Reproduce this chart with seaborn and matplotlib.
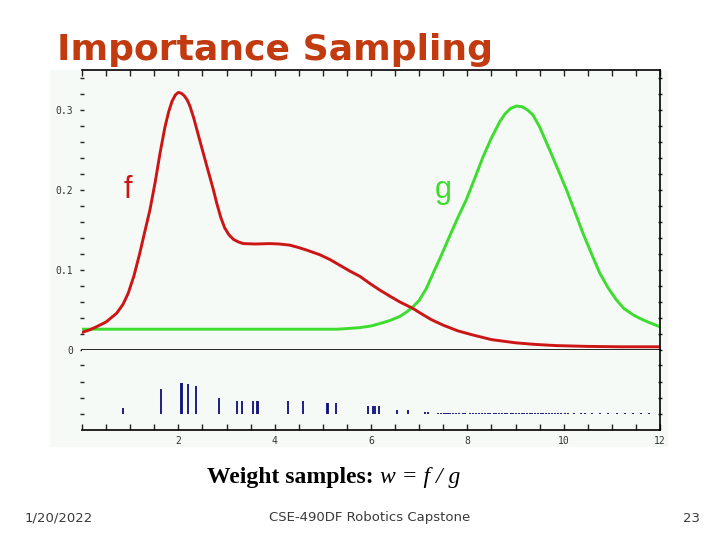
import matplotlib
matplotlib.use("Agg")
import matplotlib.pyplot as plt
from matplotlib.patches import Rectangle
from matplotlib.ticker import MultipleLocator, FixedLocator
import pandas as pd
import seaborn as sns

# target density f (red)
f_x = [0, 0.15, 0.3, 0.5, 0.72, 0.85, 0.96, 1.08, 1.2, 1.3, 1.41, 1.52, 1.62, 1.72, 1.8,
       1.87, 1.94, 2.0, 2.06, 2.12, 2.18, 2.24, 2.32, 2.4, 2.5, 2.6, 2.72, 2.8, 2.88,
       2.96, 3.05, 3.15, 3.25, 3.35, 3.6, 3.9, 4.1, 4.32, 4.5, 4.66, 4.94, 5.15, 5.35,
       5.55, 5.77, 5.98, 6.18, 6.4, 6.6, 6.87, 7.0, 7.25, 7.5, 7.8, 8.1, 8.5, 9.0, 9.4,
       9.85, 10.5, 11.2, 12]
f_y = [0.022, 0.025, 0.029, 0.035, 0.046, 0.057, 0.071, 0.093, 0.121, 0.147, 0.175, 0.21,
       0.246, 0.278, 0.298, 0.311, 0.319, 0.322, 0.321, 0.318, 0.313, 0.305, 0.29, 0.272,
       0.25, 0.228, 0.202, 0.183, 0.166, 0.153, 0.144, 0.138, 0.135, 0.133, 0.1325, 0.133,
       0.1325, 0.131, 0.128, 0.125, 0.119, 0.113, 0.106, 0.099, 0.092, 0.083, 0.075,
       0.067, 0.06, 0.052, 0.047, 0.038, 0.031, 0.024, 0.019, 0.013, 0.009, 0.007,
       0.0055, 0.0045, 0.004, 0.004]

# proposal density g (green)
g_x = [0, 5.3, 5.55, 5.77, 6.0, 6.18, 6.4, 6.6, 6.75, 6.87, 7.0, 7.15, 7.29, 7.45, 7.63,
       7.8, 7.98, 8.15, 8.33, 8.5, 8.67, 8.78, 8.9, 9.02, 9.14, 9.25, 9.36, 9.5, 9.71,
       9.9, 10.06, 10.25, 10.4, 10.58, 10.75, 10.92, 11.09, 11.25, 11.44, 11.6, 11.75, 12]
g_y = [0.026, 0.026, 0.027, 0.028, 0.030, 0.033, 0.037, 0.042, 0.048, 0.054, 0.062, 0.077,
       0.096, 0.117, 0.142, 0.165, 0.188, 0.214, 0.242, 0.265, 0.285, 0.295, 0.302, 0.305,
       0.304, 0.300, 0.294, 0.279, 0.25, 0.223, 0.2, 0.17, 0.146, 0.12, 0.096, 0.078,
       0.063, 0.052, 0.044, 0.039, 0.035, 0.029]

# weighted samples (position, weight)
sample_x = [0.86, 1.65, 2.05, 2.07, 2.21, 2.36, 2.85, 3.22, 3.33, 3.56, 3.64, 3.66, 4.28,
            4.59, 5.08, 5.10, 5.28, 5.94, 6.04, 6.08, 6.16, 6.53, 6.76,
            7.12, 7.18, 7.40, 7.46, 7.52, 7.56, 7.60, 7.65, 7.70, 7.76, 7.82, 7.90, 7.95,
            8.05, 8.12, 8.18, 8.25, 8.30, 8.36, 8.42, 8.48, 8.55, 8.60, 8.66, 8.72, 8.78,
            8.83, 8.90, 8.94, 9.02, 9.08, 9.13, 9.18, 9.24, 9.30, 9.35, 9.41, 9.47, 9.52,
            9.58, 9.63, 9.70, 9.76, 9.82, 9.88, 9.95, 10.02, 10.08, 10.22, 10.35, 10.45,
            10.58, 10.75, 10.92, 11.10, 11.27, 11.43, 11.60, 11.78]
sample_w = [2.6, 10.5, 12.8, 12.8, 12.5, 11.4, 6.6, 5.5, 5.5, 5.5, 5.5, 5.5, 5.2,
            5.2, 4.7, 4.7, 4.7, 3.1, 3.1, 3.1, 3.1, 1.5, 1.5,
            0.8, 0.8, 0.6, 0.6, 0.6, 0.6, 0.6, 0.6, 0.6, 0.6, 0.6, 0.6, 0.6,
            0.6, 0.6, 0.6, 0.6, 0.6, 0.6, 0.6, 0.6, 0.6, 0.6, 0.6, 0.6, 0.6,
            0.6, 0.6, 0.6, 0.6, 0.6, 0.6, 0.6, 0.6, 0.6, 0.6, 0.6, 0.6, 0.6,
            0.6, 0.6, 0.6, 0.6, 0.6, 0.6, 0.6, 0.6, 0.6, 0.6, 0.6, 0.6,
            0.6, 0.6, 0.6, 0.6, 0.6, 0.6, 0.6, 0.6]

y_labels = ["0", "0.1", "0.2", "0.3"]
x_labels = ["2", "4", "6", "8", "10", "12"]

sns.set_style("white")
plt.rcParams["font.family"] = ["DejaVu Sans"]

RED = "#cc1515"
GREEN = "#3ddc2e"
PANEL = "#f5faf7"
TICK = "#222222"

fig = plt.figure(figsize=(7.2, 5.4), dpi=100)
fig.patch.set_facecolor("white")
fig.patches.append(Rectangle((50 / 720, 1 - 447 / 540), 618 / 720, 377 / 540,
                             transform=fig.transFigure, facecolor=PANEL,
                             edgecolor="none", zorder=-10))

ax = fig.add_axes([82 / 720, 1 - 350 / 540, 578 / 720, 280 / 540])
ax2 = fig.add_axes([82 / 720, 1 - 430 / 540, 578 / 720, 80 / 540], sharex=ax)
for a in (ax, ax2):
    a.set_facecolor(PANEL)
    a.spines["left"].set_visible(False)
    for s in ("top", "right", "bottom"):
        a.spines[s].set_color("black")
        a.spines[s].set_linewidth(1.2)
ax2.spines["top"].set_visible(False)

df_f = pd.DataFrame({"x": f_x, "y": f_y})
df_g = pd.DataFrame({"x": g_x, "y": g_y})
sns.lineplot(data=df_g, x="x", y="y", ax=ax, color=GREEN, linewidth=2.1, sort=False)
sns.lineplot(data=df_f, x="x", y="y", ax=ax, color=RED, linewidth=2.1, sort=False)

ax.set_xlim(0, 12)
ax.set_ylim(0, 0.35)
ax.set_xlabel("")
ax.set_ylabel("")

ax.text(0.95, 0.2, "f", color=RED, fontsize=22, family="Liberation Sans",
        ha="center", va="center")
ax.text(7.49, 0.2, "g", color=GREEN, fontsize=22, family="Liberation Sans",
        ha="center", va="center")

# upper panel ticks
ax.yaxis.set_major_locator(FixedLocator([0, 0.1, 0.2, 0.3]))
ax.set_yticklabels(y_labels)
ax.yaxis.set_minor_locator(MultipleLocator(0.02))
ax.xaxis.set_minor_locator(MultipleLocator(0.5))
ax.tick_params(axis="x", which="both", bottom=False, top=True, labelbottom=False,
               direction="in", length=4, width=1, color=TICK)
ax.tick_params(axis="y", which="both", left=True, right=True, direction="in",
               length=4, width=1, color=TICK)
ax.tick_params(axis="y", which="both", left=True, direction="inout", length=3)
ax.tick_params(axis="y", which="major", labelsize=7, labelcolor="#333333", pad=5)
for lab in ax.get_yticklabels():
    lab.set_family("DejaVu Sans Mono")

# weights panel
ax2.vlines(sample_x, 0, sample_w, color="#0e0e7a", linewidth=1.3)
ax2.set_ylim(-6.6, 26.4)
ax2.yaxis.set_major_locator(FixedLocator([0, 6.6, 13.2, 20.2]))
ax2.tick_params(axis="y", which="both", left=True, right=True, labelleft=False,
                direction="in", length=4, width=1, color=TICK)
ax2.tick_params(axis="y", left=True, direction="inout", length=3)
ax2.xaxis.set_major_locator(FixedLocator([2, 4, 6, 8, 10, 12]))
ax2.xaxis.set_minor_locator(MultipleLocator(0.5))
ax2.set_xticklabels(x_labels)
ax2.tick_params(axis="x", which="both", bottom=True, top=False, direction="in",
                length=4, width=1, color=TICK, labelsize=7, labelcolor="#333333", pad=4)
for lab in ax2.get_xticklabels():
    lab.set_family("DejaVu Sans Mono")
ax2.set_xlim(0, 12)

# slide text
fig.text(57 / 720, 1 - 60 / 540, "Importance Sampling", color="#c23a10", fontsize=26,
         fontweight="bold", family="DejaVu Sans", va="baseline", ha="left")
t1 = fig.text(207 / 720, 1 - 483 / 540, "Weight samples: ", fontsize=17, color="black",
              fontweight="bold", family="Liberation Serif", va="baseline", ha="left")
ax.annotate("w = f / g", xy=(1, 0), xycoords=t1, va="bottom", ha="left",
            fontsize=17, style="italic", family="Liberation Serif", color="black",
            annotation_clip=False)
fig.text(25 / 720, 1 - 518 / 540, "1/20/2022", fontsize=9.5, color="#3a3a3a",
         va="center", ha="left")
fig.text(370 / 720, 1 - 518 / 540, "CSE-490DF Robotics Capstone", fontsize=9.5,
         color="#3a3a3a", va="center", ha="center")
fig.text(700 / 720, 1 - 518 / 540, "23", fontsize=9.5, color="#3a3a3a",
         va="center", ha="right")

fig.savefig("out.png", dpi=100)
plt.close(fig)
